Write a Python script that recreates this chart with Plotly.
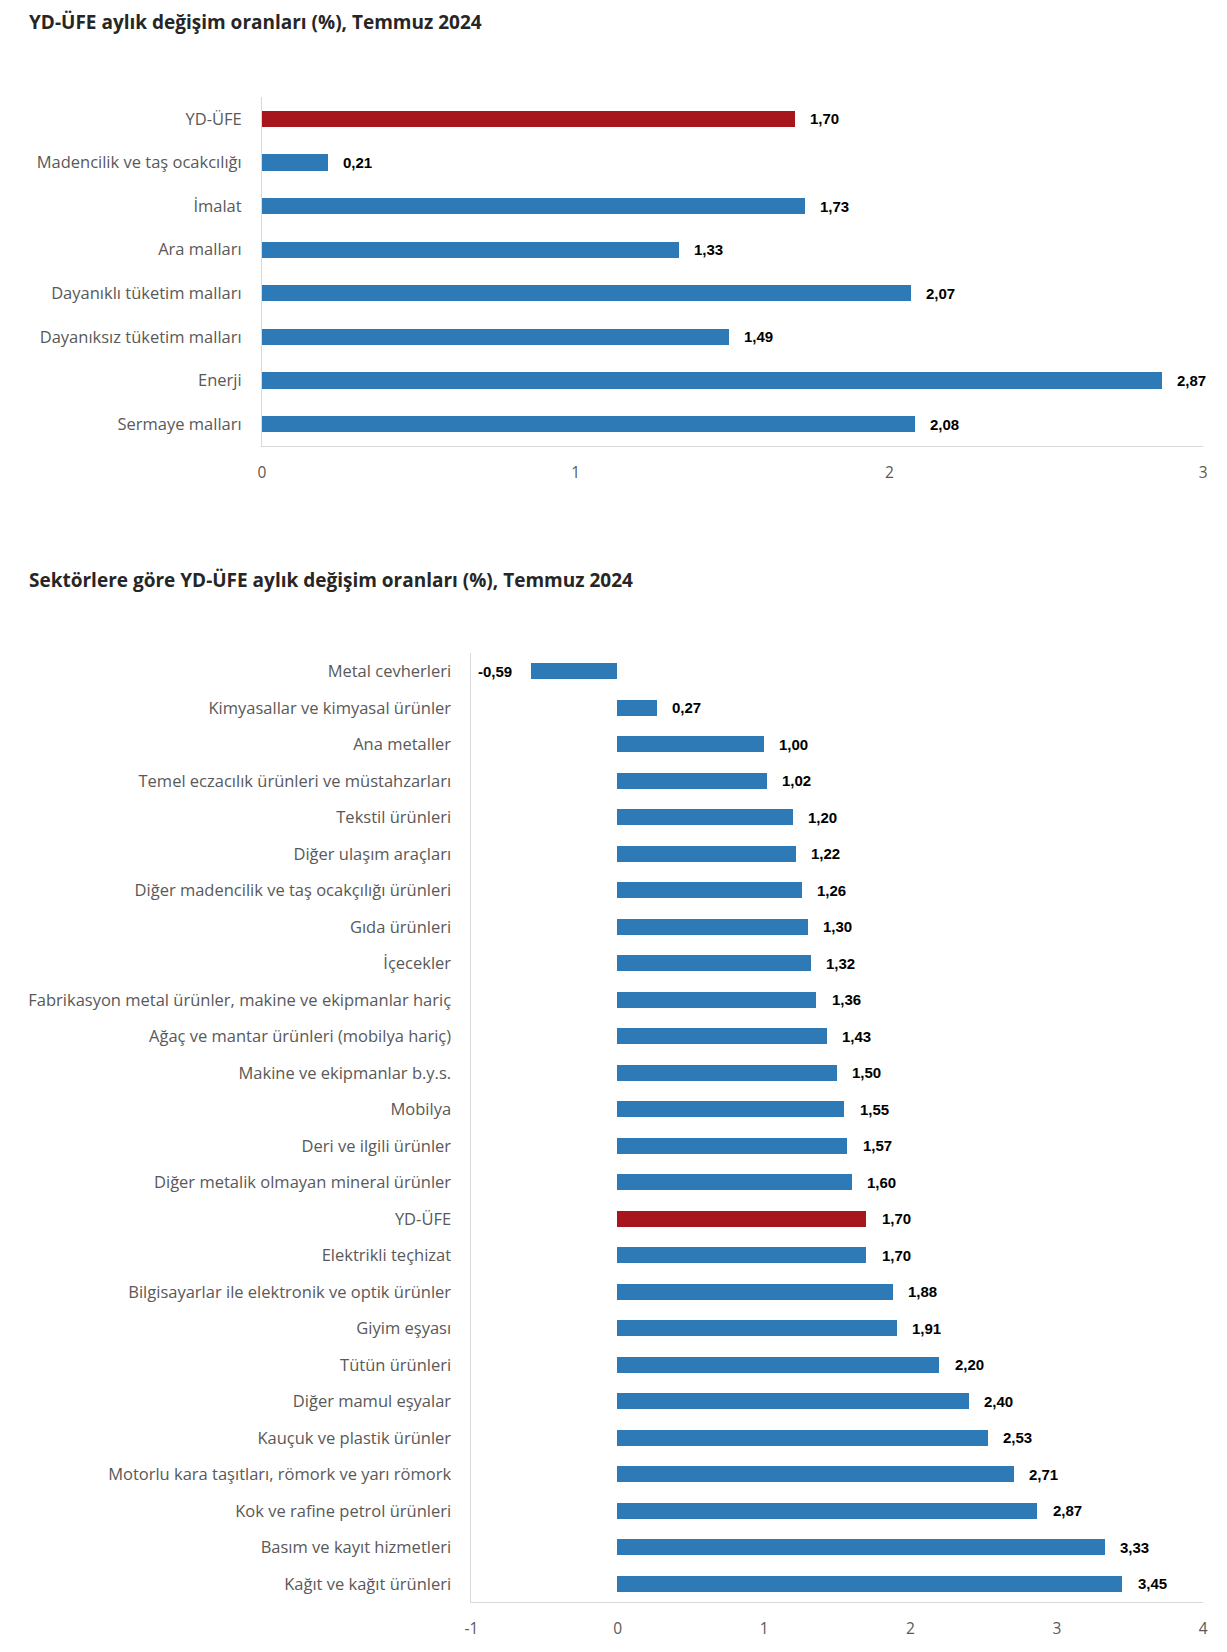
import plotly.graph_objects as go

W, H = 1227, 1652

title1 = "YD-ÜFE aylık değişim oranları (%), Temmuz 2024"
cats1 = ["YD-ÜFE", "Madencilik ve taş ocakcılığı", "İmalat", "Ara malları",
         "Dayanıklı tüketim malları", "Dayanıksız tüketim malları", "Enerji", "Sermaye malları"]
vals1 = [1.70, 0.21, 1.73, 1.33, 2.07, 1.49, 2.87, 2.08]

title2 = "Sektörlere göre YD-ÜFE aylık değişim oranları (%), Temmuz 2024"
cats2 = ["Metal cevherleri", "Kimyasallar ve kimyasal ürünler", "Ana metaller",
         "Temel eczacılık ürünleri ve müstahzarları", "Tekstil ürünleri", "Diğer ulaşım araçları",
         "Diğer madencilik ve taş ocakçılığı ürünleri", "Gıda ürünleri", "İçecekler",
         "Fabrikasyon metal ürünler, makine ve ekipmanlar hariç",
         "Ağaç ve mantar ürünleri (mobilya hariç)", "Makine ve ekipmanlar b.y.s.", "Mobilya",
         "Deri ve ilgili ürünler", "Diğer metalik olmayan mineral ürünler", "YD-ÜFE",
         "Elektrikli teçhizat", "Bilgisayarlar ile elektronik ve optik ürünler", "Giyim eşyası",
         "Tütün ürünleri", "Diğer mamul eşyalar", "Kauçuk ve plastik ürünler",
         "Motorlu kara taşıtları, römork ve yarı römork", "Kok ve rafine petrol ürünleri",
         "Basım ve kayıt hizmetleri", "Kağıt ve kağıt ürünleri"]
vals2 = [-0.59, 0.27, 1.00, 1.02, 1.20, 1.22, 1.26, 1.30, 1.32, 1.36, 1.43, 1.50, 1.55,
         1.57, 1.60, 1.70, 1.70, 1.88, 1.91, 2.20, 2.40, 2.53, 2.71, 2.87, 3.33, 3.45]

xticks1 = [0, 1, 2, 3]
xticks2 = [-1, 0, 1, 2, 3, 4]

BLUE = "#2E7AB6"
RED = "#A6161C"
HIGHLIGHT = "YD-ÜFE"

def fmt(v):
    return f"{v:.2f}".replace(".", ",")

fig = go.Figure()

for cats, vals, xa, ya in [(cats1, vals1, "x", "y"), (cats2, vals2, "x2", "y2")]:
    colors = [RED if c == HIGHLIGHT else BLUE for c in cats]
    fig.add_trace(go.Bar(
        x=vals, y=cats, orientation="h", xaxis=xa, yaxis=ya,
        marker=dict(color=colors, line=dict(width=0)),
        width=0.37 if xa == "x" else 0.44,
        hoverinfo="x+y", showlegend=False,
    ))
    for c, v in zip(cats, vals):
        fig.add_annotation(
            x=v, y=c, xref=xa, yref=ya, text=fmt(v), showarrow=False,
            xanchor="left" if v >= 0 else "right", xshift=13 if v >= 0 else -17,
            font=dict(family="Liberation Sans", size=15, color="#000000", weight="bold"),
        )

def px_x(p):
    return p / W

def px_y(p):
    return 1 - p / H

axis_common = dict(
    showgrid=False, zeroline=False, showline=True, linecolor="#D9D9D9", linewidth=1,
    ticks="outside", tickcolor="rgba(0,0,0,0)", fixedrange=True,
)
xfont = dict(family="Open Sans", size=15.5, color="#595959")
yfont = dict(family="Open Sans", size=16.5, color="#595959")

fig.update_layout(
    width=W, height=H, margin=dict(l=0, r=0, t=0, b=0),
    paper_bgcolor="white", plot_bgcolor="white", bargap=0,
    xaxis=dict(domain=[px_x(257.5), px_x(1208)], range=[0, 3], anchor="y", tickfont=xfont,
               tickvals=xticks1, ticktext=[str(t) for t in xticks1], ticklen=12, **axis_common),
    yaxis=dict(domain=[px_y(446), px_y(97)], anchor="x", autorange=False, range=[7.5, -0.5], tickfont=yfont,
               type="category", categoryorder="array", categoryarray=cats1, ticklen=16, **axis_common),
    xaxis2=dict(domain=[px_x(469), px_x(1208)], range=[-1, 4], anchor="y2", tickfont=xfont,
                tickvals=xticks2, ticktext=[str(t) for t in xticks2], ticklen=12, **axis_common),
    yaxis2=dict(domain=[px_y(1602), px_y(653)], anchor="x2", autorange=False, range=[25.5, -0.5], tickfont=yfont,
                type="category", categoryorder="array", categoryarray=cats2, ticklen=16, **axis_common),
)

for t, ypx in [(title1, 22), (title2, 580)]:
    fig.add_annotation(
        x=px_x(20), y=px_y(ypx), xref="paper", yref="paper", text=t, showarrow=False,
        xanchor="left", yanchor="middle",
        font=dict(family="Open Sans", size=19, color="#262626", weight="bold"),
    )

fig.write_html(
    "out.html",
    config={"displayModeBar": False},
    post_script="document.body.style.margin='0';document.documentElement.style.overflow='hidden';document.body.style.overflow='hidden';",
)
